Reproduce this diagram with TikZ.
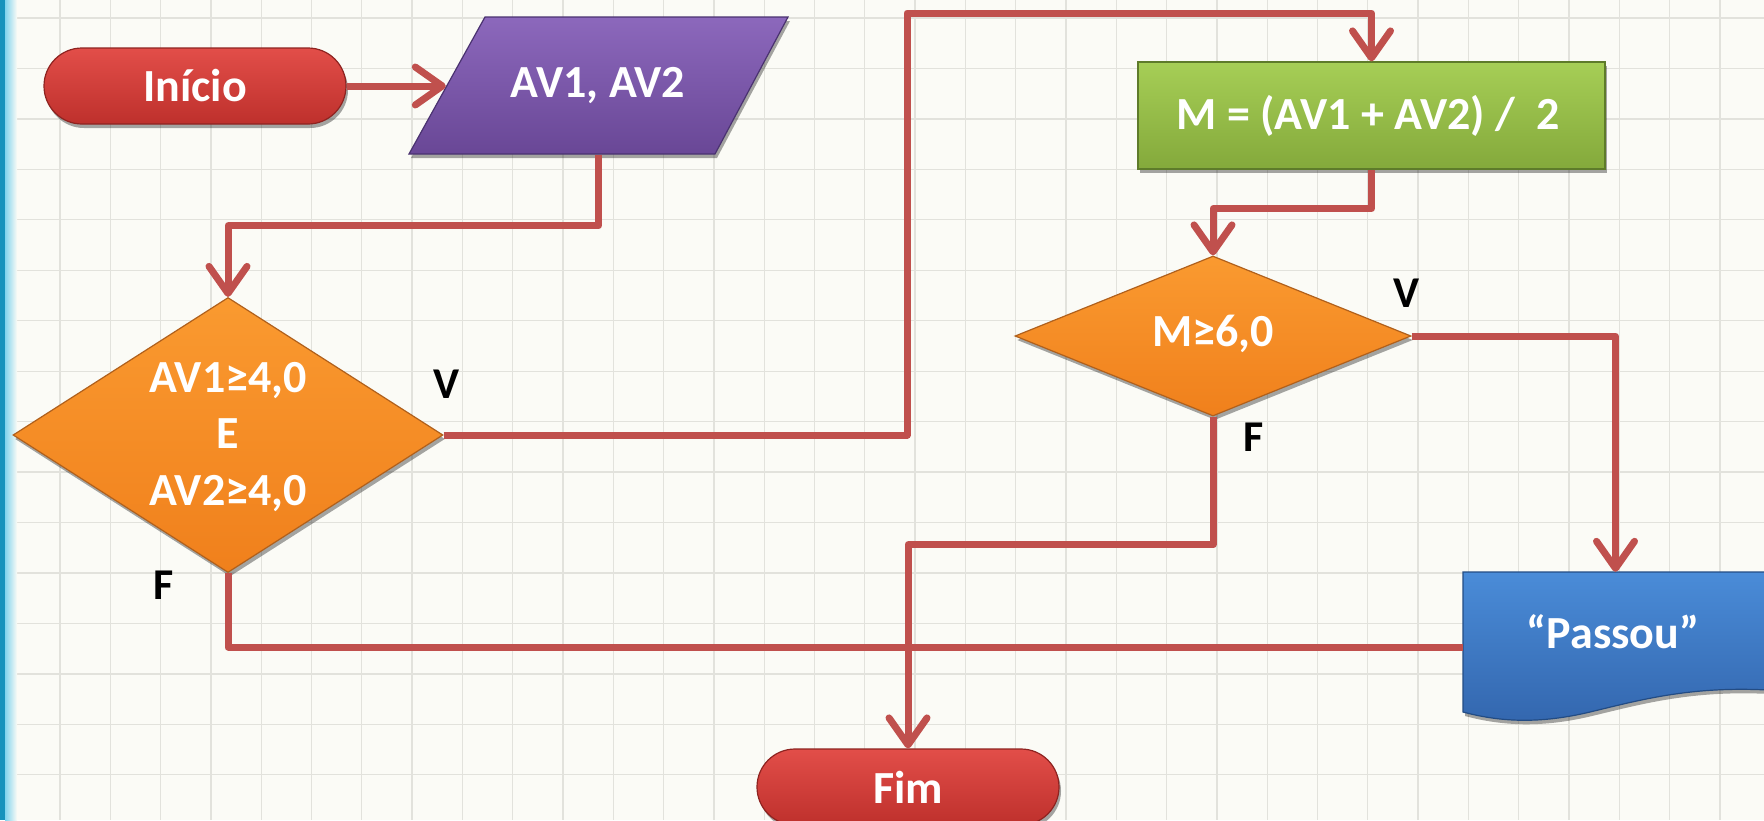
\documentclass[tikz,border=0pt]{standalone}
\usepackage{fontspec}
\setmainfont{Carlito}
\usetikzlibrary{shapes.geometric,arrows.meta,shadows,calc}
\definecolor{bgc}{HTML}{FBFBF6}
\definecolor{gridc}{HTML}{E2E2DC}
\definecolor{conncol}{HTML}{C0504D}
\definecolor{stripdark}{HTML}{1592BD}
\definecolor{stripmid}{HTML}{7FD3EE}
\definecolor{termtop}{HTML}{E24E49}
\definecolor{termbot}{HTML}{BE302C}
\definecolor{termdraw}{HTML}{8E2320}
\definecolor{purtop}{HTML}{8C68BC}
\definecolor{purbot}{HTML}{694796}
\definecolor{purdraw}{HTML}{4A3270}
\definecolor{ortop}{HTML}{FA9A30}
\definecolor{orbot}{HTML}{F0801C}
\definecolor{ordraw}{HTML}{B0601C}
\definecolor{grtop}{HTML}{A6CE56}
\definecolor{grbot}{HTML}{84A93B}
\definecolor{grdraw}{HTML}{5E7B2A}
\definecolor{bltop}{HTML}{4A8CD8}
\definecolor{blbot}{HTML}{3366AE}
\definecolor{bldraw}{HTML}{234C84}
\tikzset{
  x=1pt, y=-1pt,
  every node/.style={font=\fontsize{46}{56.5}\selectfont\bfseries, text=white, inner sep=0pt},
  shadowed/.style={drop shadow={shadow xshift=2pt, shadow yshift=-4pt, opacity=0.35, fill=black}},
  term/.style={rectangle, rounded corners=38pt, minimum width=302pt, minimum height=76pt,
    top color=termtop, bottom color=termbot, draw=termdraw, line width=1.2pt, shadowed},
  iofill/.style={top color=purtop, bottom color=purbot, draw=purdraw, line width=1.2pt, shadowed},
  decision/.style={diamond, minimum width=#1, top color=ortop, bottom color=orbot,
    draw=ordraw, line width=1.2pt, shadowed},
  procbox/.style={rectangle, minimum width=467pt, minimum height=107pt,
    top color=grtop, bottom color=grbot, draw=grdraw, line width=1.2pt, shadowed},
  docfill/.style={top color=bltop, bottom color=blbot, draw=bldraw, line width=1.2pt, shadowed},
  lbl/.style={text=black, font=\fontsize{44}{50}\selectfont\bfseries},
  txt/.style={align=center},
  conn/.style={draw=conncol, line width=7pt, line join=round},
  arr/.style={-{Straight Barb[length=27pt,width=38pt,line join=round,line cap=round]}},
  gridline/.style={draw=gridc, line width=1.3pt}
}
\begin{document}
\begin{tikzpicture}
\useasboundingbox (0,0) rectangle (1764,820);
% background
\fill[bgc] (0,0) rectangle (1764,820);
\foreach \i in {0,...,35} {\path[gridline] ({9.7+50.3*\i},0) -- ++(0,820);}
\foreach \j in {0,...,16} {\path[gridline] (0,{18+50.45*\j}) -- ++(1764,0);}
\fill[stripdark] (0,0) rectangle (5,820);
\shade[left color=stripmid, right color=bgc] (5,0) rectangle (17,820);

% nodes
\node[term] (inicio) at (195,86) {};
\node (inicioT) at (195,86) {Início};
\node[minimum width=305pt, minimum height=137pt] (entrada) at (598.5,86) {};
\path[iofill] (409,154) -- (485,17) -- (788,17) -- (715,154) -- cycle;
\node (entradaT) at (598,86) {AV1, AV2};
\node[decision=430pt, minimum height=275pt] (d1) at (228,435) {};
\node[txt] (d1T) at (228,437) {AV1≥4,0\\E\\AV2≥4,0};
\node[procbox] (calc) at (1371.5,115.5) {};
\node (calcT) at (1368,116) {M = (AV1 + AV2) /\ \ 2};
\node[decision=396pt, minimum height=160pt] (d2) at (1213,336) {};
\node (d2T) at (1213,334) {M≥6,0};
\node[minimum width=305pt, minimum height=150pt] (passou) at (1615.5,647) {};
\path[docfill]
  (1463,572) -- (1768,572) -- (1768,690)
  .. controls (1690,686) and (1640,700) .. (1590,712)
  .. controls (1540,724) and (1500,722) .. (1463,712) -- cycle;
\node (passouT) at (1613,632) {“Passou”};
\node[term] (fim) at (908,787) {};
\node (fimT) at (908,787) {Fim};

% labels
\node[lbl] (v1) at (447,384) {V};
\node[lbl] (f1) at (164,585) {F};
\node[lbl] (v2) at (1406,293) {V};
\node[lbl] (f2) at (1254,437) {F};

% connectors
\coordinate (j1) at (907,13);
\draw[conn, arr] (inicio.east) -- (entrada.west);
\draw[conn, arr] (entrada.south) -- ++(0,71) -| (d1.north);
\draw[conn, arr] (d1.east) -| (j1) -| (calc.north);
\draw[conn, arr] (calc.south) -- ++(0,39) -| (d2.north);
\draw[conn, arr] (d2.east) -| (passou.north);
\draw[conn, arr] (d2.south) -- ++(0,128) -| (fim.north);
\draw[conn] (d1.south) |- (passou.west);
\end{tikzpicture}
\end{document}
